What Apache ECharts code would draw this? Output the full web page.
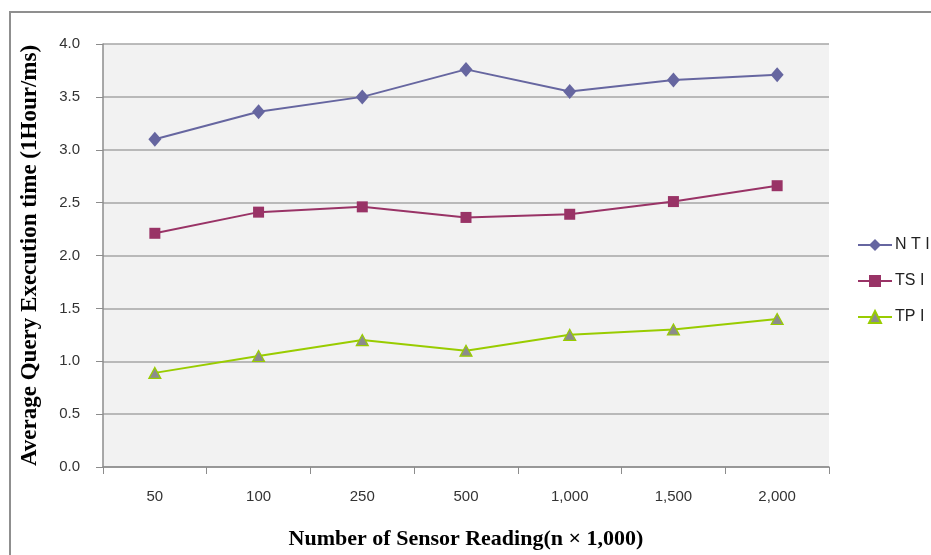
<!DOCTYPE html>
<html>
<head>
<meta charset="utf-8">
<script src="https://cdn.jsdelivr.net/npm/echarts@6/dist/echarts.min.js"></script>
<style>
  html, body { margin: 0; padding: 0; background: #ffffff; overflow: hidden; }
  #chart { width: 931px; height: 555px; }
</style>
</head>
<body>
<div id="chart"></div>
<script>
// Sensor reading counts (thousands) on the x axis
const categories = ['50', '100', '250', '500', '1,000', '1,500', '2,000'];
// Average query execution time per index type
const ntiValues = [3.10, 3.36, 3.50, 3.76, 3.55, 3.66, 3.71];
const tsiValues = [2.21, 2.41, 2.46, 2.36, 2.39, 2.51, 2.66];
const tpiValues = [0.89, 1.05, 1.20, 1.10, 1.25, 1.30, 1.40];
const seriesNames = ['N T I', 'TS I', 'TP I'];

const chart = echarts.init(document.getElementById('chart'), null, { renderer: 'canvas' });

const tickFont = { fontFamily: 'Liberation Sans', fontSize: 15, color: '#333' };

chart.setOption({
  animation: false,
  backgroundColor: '#ffffff',
  graphic: [
    {
      type: 'rect',
      shape: { x: 10, y: 12, width: 940, height: 560 },
      style: { fill: 'none', stroke: '#8f8f8f', lineWidth: 2 },
      silent: true,
      z: -1
    }
  ],
  grid: {
    left: 103, top: 44, width: 726, height: 423,
    outerBoundsMode: 'none',
    containLabel: false,
    show: true, backgroundColor: '#f2f2f2', borderWidth: 0
  },
  legend: {
    orient: 'vertical',
    left: 852, top: 232,
    itemWidth: 34, itemHeight: 15, itemGap: 20,
    textStyle: { fontFamily: 'Liberation Sans', fontSize: 16, color: '#222', padding: [0, 0, 0, -2] },
    data: seriesNames
  },
  xAxis: {
    type: 'category',
    data: categories,
    boundaryGap: true,
    name: 'Number of Sensor Reading(n \u00d7 1,000)',
    nameLocation: 'middle',
    nameGap: 61,
    nameTextStyle: { fontFamily: 'Liberation Serif', fontWeight: 'bold', fontSize: 22, color: '#000' },
    axisLine: { lineStyle: { color: '#8c8c8c', width: 1.5 } },
    axisTick: { show: true, length: 7, interval: 0, lineStyle: { color: '#8c8c8c' } },
    axisLabel: Object.assign({ margin: 22, interval: 0 }, tickFont),
    splitLine: { show: false }
  },
  yAxis: {
    type: 'value',
    min: 0, max: 4, interval: 0.5,
    name: 'Average Query Execution time (1Hour/ms)',
    nameLocation: 'middle',
    nameGap: 61,
    nameTextStyle: { fontFamily: 'Liberation Serif', fontWeight: 'bold', fontSize: 23, color: '#000' },
    axisLine: { show: true, lineStyle: { color: '#8c8c8c', width: 1.5 } },
    axisTick: { show: true, length: 7, inside: false, lineStyle: { color: '#8c8c8c' } },
    axisLabel: Object.assign({ margin: 23, formatter: v => v.toFixed(1) }, tickFont),
    splitLine: { show: true, lineStyle: { color: '#a6a6a6', width: 1.5 } }
  },
  series: [
    {
      name: seriesNames[0], type: 'line', data: ntiValues,
      symbol: 'diamond', symbolSize: [13, 15],
      lineStyle: { color: '#6666a0', width: 2 },
      itemStyle: { color: '#6666a0' }
    },
    {
      name: seriesNames[1], type: 'line', data: tsiValues,
      symbol: 'rect', symbolSize: 11,
      lineStyle: { color: '#993366', width: 2 },
      itemStyle: { color: '#993366' }
    },
    {
      name: seriesNames[2], type: 'line', data: tpiValues,
      symbol: 'triangle', symbolSize: [12, 11],
      lineStyle: { color: '#99cc00', width: 2 },
      itemStyle: { color: '#8c8c8c', borderColor: '#99cc00', borderWidth: 1.2 }
    }
  ]
});
</script>
</body>
</html>
